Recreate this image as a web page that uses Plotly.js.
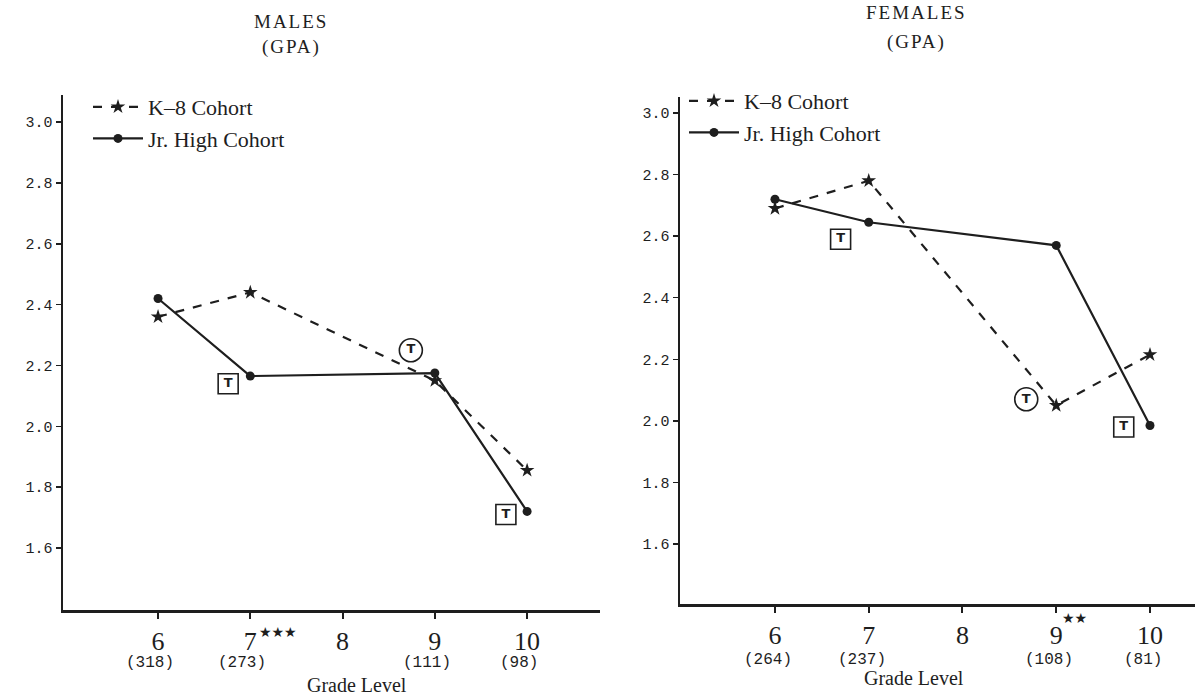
<!DOCTYPE html>
<html>
<head>
<meta charset="utf-8">
<script src="https://cdn.plot.ly/plotly-3.0.1.min.js"></script>
<style>html,body{margin:0;padding:0;background:#fff;}#chart{width:1195px;height:695px;}</style>
</head>
<body>
<div id="chart"></div>
<script>
// ---- data ----
const grades = [6, 7, 9, 10];
const maleK8 = [2.36, 2.44, 2.15, 1.855];
const maleJrHigh = [2.42, 2.165, 2.175, 1.72];
const femaleK8 = [2.69, 2.78, 2.05, 2.215];
const femaleJrHigh = [2.72, 2.645, 2.57, 1.985];

const tickGrades = [6, 7, 8, 9, 10];
const tickGradeLabels = ['6', '7', '8', '9', '10'];
const maleCounts = ['(318)', '(273)', '', '(111)', '(98)'];
const femaleCounts = ['(264)', '(237)', '', '(108)', '(81)'];
const yTicks = [1.6, 1.8, 2.0, 2.2, 2.4, 2.6, 2.8, 3.0];
const yTickLabels = ['1.6', '1.8', '2.0', '2.2', '2.4', '2.6', '2.8', '3.0'];

// "T" markers (boxed / circled)
const maleBoxT_x = [6.76, 9.77];
const maleBoxT_y = [2.14, 1.71];
const maleCircT_x = [8.74];
const maleCircT_y = [2.25];
const femaleBoxT_x = [6.70, 9.72];
const femaleBoxT_y = [2.59, 1.98];
const femaleCircT_x = [8.68];
const femaleCircT_y = [2.07];

const seriesNames = ['K\u20138 Cohort', 'Jr. High Cohort'];
const titleTop = ['MALES', 'FEMALES'];
const titleSub = '(GPA)';
const xTitle = 'Grade Level';
const maleStars = '\u2605\u2605\u2605';
const femaleStars = '\u2605\u2605';

// ---- layout helpers ----
const W = 1195, H = 695;
const px = v => v / W;
const py = v => 1 - v / H;
const ink = '#1e1e1e';
const serif = 'Liberation Serif, Times New Roman, serif';
const mono = 'Liberation Mono, DejaVu Sans Mono, monospace';

function lineTrace(y, name, xa, ya, dashed, legend) {
  return {
    x: grades, y: y, name: name, xaxis: xa, yaxis: ya, legend: legend,
    mode: 'lines+markers', type: 'scatter',
    line: {color: ink, width: 2.2, dash: dashed ? 'dash' : 'solid'},
    marker: {color: ink, size: dashed ? 11 : 9, symbol: dashed ? 'star' : 'circle'},
    hoverinfo: 'skip'
  };
}
function tTrace(x, y, xa, ya, sym) {
  return {
    x: x, y: y, xaxis: xa, yaxis: ya, mode: 'markers+text', type: 'scatter',
    text: x.map(() => '<b>T</b>'), textposition: 'middle center',
    textfont: {family: 'DejaVu Sans, sans-serif', size: 13, color: ink},
    marker: {symbol: sym, size: sym === 'circle-open' ? 23 : 20, color: ink, line: {width: 1.6, color: ink}},
    showlegend: false, hoverinfo: 'skip'
  };
}

const data = [
  lineTrace(maleK8, seriesNames[0], 'x', 'y', true, 'legend'),
  lineTrace(maleJrHigh, seriesNames[1], 'x', 'y', false, 'legend'),
  lineTrace(femaleK8, seriesNames[0], 'x2', 'y2', true, 'legend2'),
  lineTrace(femaleJrHigh, seriesNames[1], 'x2', 'y2', false, 'legend2'),
  tTrace(maleBoxT_x, maleBoxT_y, 'x', 'y', 'square-open'),
  tTrace(maleCircT_x, maleCircT_y, 'x', 'y', 'circle-open'),
  tTrace(femaleBoxT_x, femaleBoxT_y, 'x2', 'y2', 'square-open'),
  tTrace(femaleCircT_x, femaleCircT_y, 'x2', 'y2', 'circle-open')
];

function xAxis(domain, range, anchor) {
  return {
    domain: domain, range: range, anchor: anchor,
    tickmode: 'array', tickvals: tickGrades, ticktext: tickGradeLabels,
    ticks: 'outside', ticklen: 6, tickwidth: 2, tickcolor: ink,
    showline: true, linecolor: ink, linewidth: 2.5,
    showgrid: false, zeroline: false,
    tickfont: {family: serif, size: 26, color: ink},
    fixedrange: true
  };
}
function yAxis(domain, range, anchor) {
  return {
    domain: domain, range: range, anchor: anchor,
    tickmode: 'array', tickvals: yTicks, ticktext: yTickLabels,
    ticks: 'outside', ticklen: 5, tickwidth: 1.5, tickcolor: ink,
    showline: true, linecolor: ink, linewidth: 2.5,
    showgrid: false, zeroline: false,
    tickfont: {family: mono, size: 15, color: ink},
    fixedrange: true
  };
}

const annotations = [];
const sp = t => '<span style="letter-spacing:2px">' + t + '</span>';
// titles
annotations.push({text: sp(titleTop[0]), x: px(291), y: py(22), xref: 'paper', yref: 'paper', xanchor: 'center', yanchor: 'middle', showarrow: false, font: {family: serif, size: 19, color: ink}});
annotations.push({text: sp(titleSub), x: px(291), y: py(47), xref: 'paper', yref: 'paper', xanchor: 'center', yanchor: 'middle', showarrow: false, font: {family: serif, size: 19, color: ink}});
annotations.push({text: sp(titleTop[1]), x: px(916), y: py(13), xref: 'paper', yref: 'paper', xanchor: 'center', yanchor: 'middle', showarrow: false, font: {family: serif, size: 19, color: ink}});
annotations.push({text: sp(titleSub), x: px(916), y: py(42), xref: 'paper', yref: 'paper', xanchor: 'center', yanchor: 'middle', showarrow: false, font: {family: serif, size: 19, color: ink}});
// counts
tickGrades.forEach((g, i) => {
  if (maleCounts[i]) annotations.push({text: maleCounts[i], x: g, xref: 'x', y: py(663), yref: 'paper', yanchor: 'middle', xshift: -8, showarrow: false, font: {family: mono, size: 16, color: ink}});
  if (femaleCounts[i]) annotations.push({text: femaleCounts[i], x: g, xref: 'x2', y: py(660), yref: 'paper', yanchor: 'middle', xshift: -7, showarrow: false, font: {family: mono, size: 16, color: ink}});
});
// significance stars
annotations.push({text: maleStars, x: 7, xref: 'x', xshift: 7, xanchor: 'left', y: py(632), yref: 'paper', yanchor: 'middle', showarrow: false, font: {family: 'DejaVu Sans', size: 14, color: ink}});
annotations.push({text: femaleStars, x: 9, xref: 'x2', xshift: 4, xanchor: 'left', y: py(618), yref: 'paper', yanchor: 'middle', showarrow: false, font: {family: 'DejaVu Sans', size: 14, color: ink}});
// x titles
annotations.push({text: xTitle, x: px(305), y: py(685), xref: 'paper', yref: 'paper', yanchor: 'middle', showarrow: false, font: {family: serif, size: 20, color: ink}});
annotations.push({text: xTitle, x: px(966), y: py(678), xref: 'paper', yref: 'paper', yanchor: 'middle', showarrow: false, font: {family: serif, size: 20, color: ink}});

const layout = {
  width: W, height: H,
  margin: {l: 0, r: 0, t: 0, b: 0},
  paper_bgcolor: '#ffffff', plot_bgcolor: 'rgba(0,0,0,0)',
  xaxis: xAxis([px(63), px(600)], [4.97, 10.79], 'y'),
  yaxis: yAxis([py(610), py(95)], [1.396, 3.089], 'x'),
  xaxis2: xAxis([px(680), px(1195)], [4.987, 10.48], 'y2'),
  yaxis2: yAxis([py(604), py(97)], [1.405, 3.052], 'x2'),
  legend: {x: px(88), y: py(86), xanchor: 'left', yanchor: 'top', bgcolor: 'rgba(0,0,0,0)', font: {family: serif, size: 22, color: ink}, itemwidth: 50, tracegroupgap: 0},
  legend2: {x: px(684), y: py(80), xanchor: 'left', yanchor: 'top', bgcolor: 'rgba(0,0,0,0)', font: {family: serif, size: 22, color: ink}, itemwidth: 50, tracegroupgap: 0},
  showlegend: true,
  annotations: annotations
};

Plotly.newPlot('chart', data, layout, {displayModeBar: false, staticPlot: true});
</script>
</body>
</html>
